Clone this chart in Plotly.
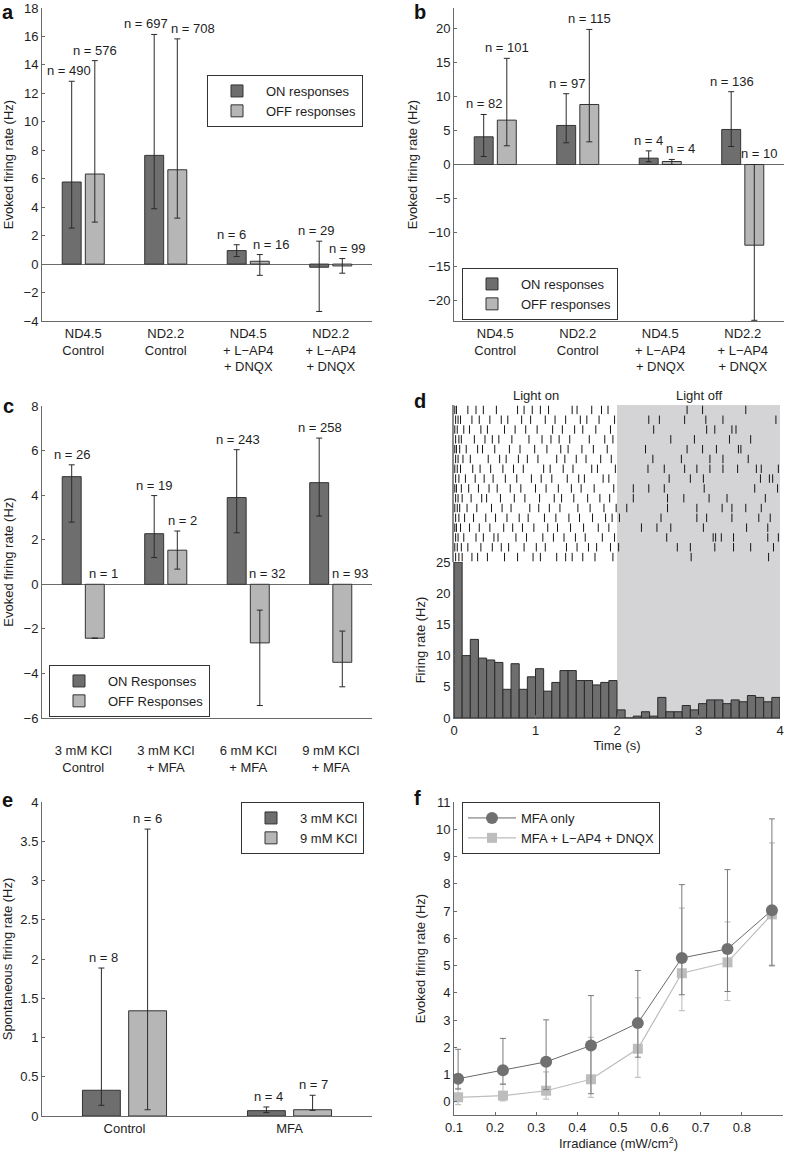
import plotly.graph_objects as go

# ------------------------------------------------------------------ data
ab_categories = ["ND4.5<br>Control", "ND2.2<br>Control",
                 "ND4.5<br>+ L\u2212AP4<br>+ DNQX", "ND2.2<br>+ L\u2212AP4<br>+ DNQX"]

a_on = [5.77, 7.64, 0.95, -0.22]
a_on_hi = [12.85, 16.14, 1.36, 1.61]
a_on_lo = [2.53, 3.89, 0.53, -3.33]
a_on_n = [490, 697, 6, 29]
a_off = [6.33, 6.63, 0.20, -0.13]
a_off_hi = [14.30, 15.83, 0.67, 0.39]
a_off_lo = [2.95, 3.23, -0.79, -0.64]
a_off_n = [576, 708, 16, 99]

b_on = [4.07, 5.74, 0.93, 5.15]
b_on_hi = [7.35, 10.40, 2.00, 10.70]
b_on_lo = [1.18, 3.19, 0.40, 2.65]
b_on_n = [82, 97, 4, 136]
b_off = [6.52, 8.82, 0.44, -11.86]
b_off_hi = [15.60, 19.85, 0.74, 0.00]
b_off_lo = [2.75, 3.33, 0.00, -22.90]
b_off_n = [101, 115, 4, 10]

c_categories = ["3 mM KCl<br>Control", "3 mM KCl<br>+ MFA",
                "6 mM KCl<br>+ MFA", "9 mM KCl<br>+ MFA"]
c_on = [4.83, 2.27, 3.89, 4.56]
c_on_hi = [5.36, 3.98, 6.04, 6.56]
c_on_lo = [2.79, 1.20, 2.31, 3.06]
c_on_n = [26, 19, 243, 258]
c_off = [-2.42, 1.53, -2.63, -3.50]
c_off_hi = [None, 2.39, -1.16, -2.10]
c_off_lo = [None, 0.68, -5.44, -4.60]
c_off_n = [1, 2, 32, 93]

# panel d: spike raster (s) per trial and PSTH (Hz), 0.1 s bins
raster_trials = [
    [0.01, 0.03, 0.17, 0.27, 0.36, 0.52, 0.78, 0.86, 0.96, 1.06, 1.16, 1.45, 1.51, 1.69, 1.81, 1.89, 2.86, 3.05, 3.58],
    [0.02, 0.05, 0.08, 0.22, 0.31, 0.44, 0.58, 0.66, 0.83, 0.94, 1.12, 1.24, 1.37, 1.55, 1.63, 1.78, 1.97, 2.39, 2.52, 2.83, 3.09, 3.30, 3.95],
    [0.01, 0.04, 0.12, 0.19, 0.33, 0.41, 0.62, 0.75, 0.88, 1.02, 1.21, 1.33, 1.48, 1.58, 1.74, 1.92, 2.45, 3.10, 3.20, 3.41, 3.46],
    [0.02, 0.06, 0.09, 0.25, 0.38, 0.47, 0.55, 0.71, 0.92, 1.08, 1.19, 1.29, 1.42, 1.66, 1.85, 1.95, 2.66, 2.95, 3.38, 3.64],
    [0.01, 0.03, 0.07, 0.15, 0.29, 0.35, 0.50, 0.68, 0.81, 0.99, 1.14, 1.31, 1.40, 1.57, 1.71, 1.88, 2.35, 2.86, 3.05, 3.22, 3.49, 3.52],
    [0.02, 0.05, 0.11, 0.20, 0.42, 0.56, 0.64, 0.79, 0.90, 1.03, 1.26, 1.36, 1.50, 1.62, 1.80, 1.93, 2.44, 2.79, 3.14, 3.30, 3.61],
    [0.01, 0.04, 0.08, 0.23, 0.32, 0.45, 0.60, 0.73, 0.85, 1.10, 1.18, 1.34, 1.46, 1.69, 1.76, 1.98, 2.38, 2.58, 2.83, 2.98, 3.14, 3.30, 3.48, 3.71, 3.77, 3.98],
    [0.02, 0.06, 0.14, 0.26, 0.37, 0.48, 0.63, 0.77, 0.95, 1.07, 1.20, 1.39, 1.53, 1.60, 1.83, 1.90, 2.64, 2.90, 3.06, 3.76, 3.87, 3.91],
    [0.01, 0.03, 0.09, 0.18, 0.30, 0.43, 0.53, 0.69, 0.82, 1.00, 1.13, 1.28, 1.44, 1.56, 1.72, 1.96, 2.20, 2.39, 2.58, 3.07, 3.69, 3.97],
    [0.02, 0.05, 0.10, 0.21, 0.34, 0.40, 0.57, 0.74, 0.87, 1.05, 1.23, 1.32, 1.47, 1.64, 1.79, 1.91, 2.20, 2.62, 2.82, 3.13, 3.35, 3.82],
    [0.01, 0.04, 0.07, 0.16, 0.28, 0.46, 0.59, 0.70, 0.93, 1.04, 1.17, 1.30, 1.52, 1.67, 1.84, 1.99, 2.12, 2.62, 2.98, 3.29, 3.41, 3.58, 3.77],
    [0.02, 0.06, 0.13, 0.24, 0.39, 0.51, 0.65, 0.80, 0.91, 1.11, 1.25, 1.41, 1.54, 1.70, 1.86, 1.94, 2.03, 2.54, 2.98, 3.10, 3.41, 3.74, 3.88],
    [0.01, 0.03, 0.08, 0.19, 0.31, 0.44, 0.61, 0.72, 0.84, 0.98, 1.15, 1.27, 1.43, 1.59, 1.77, 1.90, 2.30, 2.49, 2.66, 3.06, 3.59, 3.85],
    [0.02, 0.05, 0.12, 0.27, 0.36, 0.49, 0.54, 0.76, 0.89, 1.09, 1.22, 1.35, 1.49, 1.61, 1.82, 1.97, 2.61, 3.18, 3.21, 3.28, 3.43, 3.85, 3.98],
    [0.01, 0.04, 0.09, 0.17, 0.33, 0.47, 0.58, 0.67, 0.86, 1.01, 1.12, 1.38, 1.51, 1.65, 1.75, 1.92, 2.02, 2.74, 2.90, 3.20, 3.43, 3.64, 3.92],
    [0.02, 0.06, 0.10, 0.22, 0.29, 0.41, 0.62, 0.78, 0.97, 1.06, 1.26, 1.37, 1.45, 1.58, 1.73, 1.95, 2.91, 3.86],
]
psth_bin_width = 0.1
psth_rate = [25.0, 10.0, 12.6, 9.6, 9.3, 8.9, 4.6, 8.7, 4.6, 6.6,
             7.9, 4.3, 5.7, 7.6, 7.6, 6.0, 6.0, 5.3, 5.7, 6.0,
             1.3, 0.0, 0.3, 1.0, 0.3, 3.3, 1.0, 1.0, 2.0, 1.3,
             2.3, 2.9, 2.9, 2.3, 2.9, 2.6, 3.6, 3.3, 2.6, 3.3]
light_on_window = [0.0, 2.0]
light_off_window = [2.0, 4.0]

e_categories = ["Control", "MFA"]
e_3mm = [0.328, 0.068]
e_3mm_hi = [1.885, 0.115]
e_3mm_lo = [0.136, 0.043]
e_3mm_n = [8, 4]
e_9mm = [1.34, 0.08]
e_9mm_hi = [3.655, 0.264]
e_9mm_lo = [0.08, 0.072]
e_9mm_n = [6, 7]

irradiance = [0.110, 0.219, 0.324, 0.433, 0.547, 0.654, 0.765, 0.873]
mfa_only = [0.85, 1.16, 1.47, 2.07, 2.89, 5.28, 5.61, 7.03]
mfa_only_hi = [1.93, 2.33, 3.01, 3.90, 4.82, 7.97, 8.52, 10.38]
mfa_only_lo = [0.47, 0.65, 0.45, 0.30, 1.64, 3.93, 4.05, 4.99]
mfa_block = [0.17, 0.23, 0.41, 0.83, 1.95, 4.72, 5.12, 6.88]
mfa_block_hi = [0.50, 0.65, 1.10, 2.37, 3.82, 7.11, 6.60, 9.50]
mfa_block_lo = [-0.10, 0.04, 0.10, 0.17, 0.90, 3.35, 3.72, 5.02]

# ------------------------------------------------------------------ style
W, H = 787, 1155
FONT = "Liberation Sans, Arial, Helvetica, sans-serif"
FS = 13
TXT = "#1e1e1e"
AXIS = "#6a6a6a"
ON_COLOR = "#6e6e6e"
OFF_COLOR = "#b6b6b6"
EDGE = "#333333"
SHADE = "#d4d4d6"
BARGAP = 0.44
BARGROUPGAP = 0.18
font = dict(family=FONT, size=FS, color=TXT)


def dom_x(x0, x1):
    return [x0 / W, x1 / W]


def dom_y(y0, y1):
    return [1 - y1 / H, 1 - y0 / H]


def axis_style(**kw):
    d = dict(showline=True, linecolor=AXIS, linewidth=1, showgrid=False,
             zeroline=False, ticks="inside", ticklen=3, tickcolor=AXIS,
             tickfont=font, mirror=False, fixedrange=True, automargin=False)
    d.update(kw)
    return d


def err(vals, hi, lo):
    plus = [None if h is None else h - v for v, h in zip(vals, hi)]
    minus = [None if l is None else v - l for v, l in zip(vals, lo)]
    return dict(type="data", symmetric=False, array=plus, arrayminus=minus,
                color="#2a2a2a", thickness=1, width=3)


fig = go.Figure()
annotations = []


def bar_panel(ax, categories, series, legend):
    xs = list(range(1, len(categories) + 1))
    for name, vals, hi, lo, color in series:
        fig.add_trace(go.Bar(
            x=xs, y=vals, name=name, marker=dict(color=color, line=dict(color=EDGE, width=1)),
            error_y=err(vals, hi, lo), xaxis="x" + ax, yaxis="y" + ax,
            legend=legend, showlegend=True))


def n_labels(ax, vals, his, ns, side, nudges):
    slot = (1 - BARGAP) / 2
    for i, (v, h, n, dx) in enumerate(zip(vals, his, ns, nudges)):
        top = max(v, 0, v if h is None else h)
        annotations.append(dict(
            x=i + 1 + side * slot / 2, y=top, xref="x" + ax, yref="y" + ax,
            text=f"n = {n}", showarrow=False, yanchor="bottom", xanchor="center",
            xshift=dx, yshift=1, font=font))


# ---- panel a
bar_panel("", ab_categories, [
    ("ON responses", a_on, a_on_hi, a_on_lo, ON_COLOR),
    ("OFF responses", a_off, a_off_hi, a_off_lo, OFF_COLOR)], "legend")
n_labels("", a_on, a_on_hi, a_on_n, -1, [-3, -8, -5, -3])
n_labels("", a_off, a_off_hi, a_off_n, 1, [0, 16, 12, 5])

# ---- panel b
bar_panel("2", ab_categories, [
    ("ON responses", b_on, b_on_hi, b_on_lo, ON_COLOR),
    ("OFF responses", b_off, b_off_hi, b_off_lo, OFF_COLOR)], "legend2")
n_labels("2", b_on, b_on_hi, b_on_n, -1, [1, 1, 0, 1])
n_labels("2", b_off, b_off_hi, b_off_n, 1, [0, 0, 9, 5])

# ---- panel c
bar_panel("3", c_categories, [
    ("ON Responses", c_on, c_on_hi, c_on_lo, ON_COLOR),
    ("OFF Responses", c_off, c_off_hi, c_off_lo, OFF_COLOR)], "legend3")
n_labels("3", c_on, c_on_hi, c_on_n, -1, [1, 0, 1, 1])
n_labels("3", c_off, c_off_hi, c_off_n, 1, [9, 5, 8, 8])

# ---- panel d raster
rx, ry = [], []
for row, spikes in enumerate(raster_trials, start=1):
    rx.extend(spikes)
    ry.extend([row] * len(spikes))
fig.add_trace(go.Scatter(
    x=rx, y=ry, mode="markers", xaxis="x4", yaxis="y4", showlegend=False,
    marker=dict(symbol="line-ns", size=6, line=dict(color="#151515", width=1))))

# ---- panel d histogram
bin_starts = [i * psth_bin_width for i in range(len(psth_rate))]
fig.add_trace(go.Bar(
    x=bin_starts, y=psth_rate, width=psth_bin_width, offset=0,
    marker=dict(color=ON_COLOR, line=dict(color="#2a2a2a", width=1)),
    xaxis="x5", yaxis="y5", showlegend=False))

for ax in ("4", "5"):
    fig.add_shape(type="rect", xref="x" + ax, yref="y" + ax + " domain",
                  x0=light_off_window[0], x1=light_off_window[1], y0=0, y1=1,
                  fillcolor=SHADE, line=dict(width=0), layer="below")
for label, win in (("Light on", light_on_window), ("Light off", light_off_window)):
    annotations.append(dict(x=(win[0] + win[1]) / 2, y=1, xref="x4", yref="y4 domain",
                            text=label, showarrow=False, yanchor="bottom", yshift=0, font=font))

# ---- panel e
bar_panel("6", e_categories, [
    ("3 mM KCl", e_3mm, e_3mm_hi, e_3mm_lo, ON_COLOR),
    ("9 mM KCl", e_9mm, e_9mm_hi, e_9mm_lo, OFF_COLOR)], "legend4")
n_labels("6", e_3mm, e_3mm_hi, e_3mm_n, -1, [2, 2])
n_labels("6", e_9mm, e_9mm_hi, e_9mm_n, 1, [0, 1])

# ---- panel f
fig.add_trace(go.Scatter(
    x=irradiance, y=mfa_block, name="MFA + L\u2212AP4 + DNQX", mode="lines+markers",
    line=dict(color="#bdbdbd", width=1.2),
    marker=dict(symbol="square", size=10, color="#bdbdbd"),
    error_y=dict(type="data", symmetric=False,
                 array=[h - v for v, h in zip(mfa_block, mfa_block_hi)],
                 arrayminus=[v - l for v, l in zip(mfa_block, mfa_block_lo)],
                 color="#c4c4c4", thickness=1.2, width=3),
    xaxis="x7", yaxis="y7", legend="legend5", legendrank=2))
fig.add_trace(go.Scatter(
    x=irradiance, y=mfa_only, name="MFA only", mode="lines+markers",
    line=dict(color="#6a6a6a", width=1),
    marker=dict(symbol="circle", size=12, color="#707070"),
    error_y=dict(type="data", symmetric=False,
                 array=[h - v for v, h in zip(mfa_only, mfa_only_hi)],
                 arrayminus=[v - l for v, l in zip(mfa_only, mfa_only_lo)],
                 color="#7a7a7a", thickness=1, width=3),
    xaxis="x7", yaxis="y7", legend="legend5", legendrank=1))

# ---- panel letters (text box top edge in px)
for letter, px, py in (("a", 8, 0), ("b", 420, 0), ("c", 8, 394),
                       ("d", 420, 389), ("e", 7, 788), ("f", 417, 786)):
    annotations.append(dict(x=px / W, y=1 - py / H, xref="paper", yref="paper",
                            text=f"<b>{letter}</b>", showarrow=False,
                            xanchor="center", yanchor="top", borderpad=0,
                            font=dict(family=FONT, size=20, color="#111")))

# ------------------------------------------------------------------ layout
title_font = dict(family=FONT, size=FS, color=TXT)


def ytitle(text, standoff):
    return dict(text=text, font=title_font, standoff=standoff)


def legend_box(px, py_mid):
    return dict(x=px / W, y=1 - py_mid / H, xanchor="left", yanchor="middle",
                bgcolor="white", bordercolor="#333", borderwidth=1,
                font=font, itemwidth=48, tracegroupgap=0,
                itemclick=False, itemdoubleclick=False)


fig.update_layout(
    width=W, height=H, margin=dict(l=0, r=0, t=0, b=0, autoexpand=False),
    paper_bgcolor="white", plot_bgcolor="rgba(0,0,0,0)",
    barmode="group", bargap=BARGAP, bargroupgap=BARGROUPGAP,
    font=font,
    xaxis=axis_style(domain=dom_x(42, 372), range=[0.5, 4.5], anchor="y",
                     tickvals=list(range(1, 5)), ticktext=ab_categories, ticks=""),
    yaxis=axis_style(domain=dom_y(8, 321), range=[-4, 18], dtick=2, anchor="x",
                     zeroline=True, zerolinecolor=AXIS, zerolinewidth=1,
                     title=ytitle("Evoked firing rate (Hz)", 7)),
    xaxis2=axis_style(domain=dom_x(454, 784), range=[0.5, 4.5], anchor="y2",
                      tickvals=list(range(1, 5)), ticktext=ab_categories, ticks=""),
    yaxis2=axis_style(domain=dom_y(8, 321), range=[-23, 23], dtick=5, anchor="x2",
                      zeroline=True, zerolinecolor=AXIS, zerolinewidth=1,
                      title=ytitle("Evoked firing rate (Hz)", 7)),
    xaxis3=axis_style(domain=dom_x(42, 372), range=[0.5, 4.5], anchor="y3",
                      tickvals=list(range(1, 5)), ticktext=c_categories, ticks="",
                      ticklabelstandoff=20),
    yaxis3=axis_style(domain=dom_y(406, 718), range=[-6, 8], dtick=2, anchor="x3",
                      zeroline=True, zerolinecolor=AXIS, zerolinewidth=1,
                      title=ytitle("Evoked firing rate (Hz)", 7)),
    xaxis4=dict(domain=dom_x(454, 780), range=[0, 4], anchor="y4", visible=False,
                fixedrange=True, automargin=False),
    yaxis4=dict(domain=dom_y(405, 562), range=[len(raster_trials) + 0.5, 0.5],
                anchor="x4", showline=True, linecolor="#8a8a8a", linewidth=2,
                showticklabels=False, ticks="", showgrid=False, zeroline=False,
                fixedrange=True, automargin=False),
    xaxis5=axis_style(domain=dom_x(454, 780), range=[0, 4], dtick=1, anchor="y5",
                      title=dict(text="Time (s)", font=title_font, standoff=4)),
    yaxis5=axis_style(domain=dom_y(562, 718), range=[0, 25], dtick=5, anchor="x5",
                      title=ytitle("Firing rate (Hz)", 7)),
    xaxis6=axis_style(domain=dom_x(42, 372), range=[0.5, 2.5], anchor="y6",
                      tickvals=[1, 2], ticktext=e_categories, ticks=""),
    yaxis6=axis_style(domain=dom_y(802, 1116), range=[0, 4], dtick=0.5, anchor="x6",
                      title=ytitle("Spontaneous firing rate (Hz)", 7)),
    xaxis7=axis_style(domain=dom_x(454, 783), range=[0.1, 0.9], anchor="y7",
                      tickvals=[0.1, 0.2, 0.3, 0.4, 0.5, 0.6, 0.7, 0.8],
                      title=dict(text="Irradiance (mW/cm<sup>2</sup>)", font=title_font,
                                 standoff=4)),
    yaxis7=axis_style(domain=dom_y(802, 1115), range=[-0.48, 11], dtick=1, anchor="x7",
                      title=ytitle("Evoked firing rate (Hz)", 7)),
    legend=legend_box(207, 101),
    legend2=legend_box(462, 294),
    legend3=legend_box(49, 691),
    legend4=legend_box(241, 828),
    legend5=legend_box(462, 828),
    annotations=annotations,
)

fig.write_html("out.html",
               config={"displayModeBar": False, "staticPlot": False},
               post_script="document.body.style.margin='0px';"
                           "document.body.style.padding='0px';"
                           "document.body.style.overflow='hidden';")
